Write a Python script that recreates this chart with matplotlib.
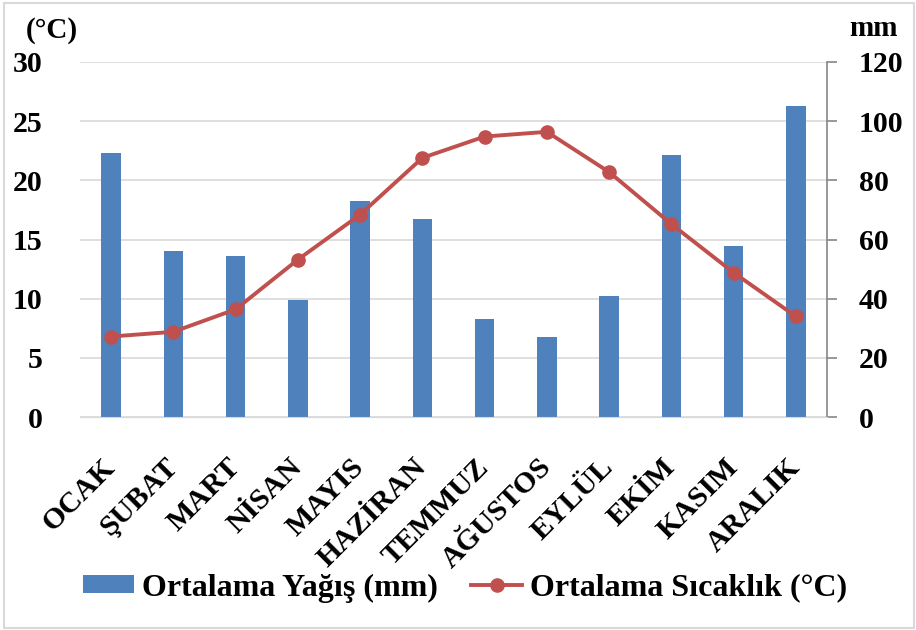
import matplotlib.pyplot as plt
from matplotlib.patches import Rectangle

plt.rcParams['font.family'] = ['Liberation Serif', 'DejaVu Serif']
plt.rcParams['font.weight'] = 'bold'

# data
months = ['OCAK', 'ŞUBAT', 'MART', 'NİSAN', 'MAYIS', 'HAZİRAN',
          'TEMMUZ', 'AĞUSTOS', 'EYLÜL', 'EKİM', 'KASIM', 'ARALIK']
rain_mm = [89.4, 56.1, 54.3, 39.7, 72.9, 66.9, 33.1, 27.0, 41.0, 88.6, 57.7, 105.0]
temp_c = [6.8, 7.2, 9.1, 13.3, 17.1, 21.9, 23.7, 24.1, 20.7, 16.3, 12.2, 8.5]
temp_ticks = [0, 5, 10, 15, 20, 25, 30]
rain_ticks = [0, 20, 40, 60, 80, 100, 120]

bar_color = '#4f81bd'
line_color = '#c0504d'
grid_color = '#d9d9d9'

fig = plt.figure(figsize=(9.16, 6.30), dpi=100)
fig.patches.append(Rectangle((4 / 916, 2 / 630), 910 / 916, 625 / 630,
                             transform=fig.transFigure, fill=False,
                             edgecolor=grid_color, linewidth=1.5))

ax2 = fig.add_axes([80 / 916, 1 - 417 / 630, 747 / 916, 355 / 630])
ax = ax2.twinx()
ax2.yaxis.tick_right()
ax.yaxis.tick_left()
ax.set_zorder(ax2.get_zorder() + 1)
ax.patch.set_visible(False)

x = list(range(len(months)))

# precipitation bars (right axis)
ax2.bar(x, rain_mm, width=0.31, color=bar_color, label='Ortalama Yağış (mm)', zorder=3)
ax2.set_ylim(0, 120)
ax2.set_yticks(rain_ticks)
ax2.set_xlim(-0.5, 11.5)
ax2.grid(axis='y', color=grid_color, linewidth=1.2, zorder=0)
ax2.set_axisbelow(True)

# temperature line (left axis)
ax.plot(x, temp_c, color=line_color, linewidth=2.8, marker='o', markersize=9.5,
        label='Ortalama Sıcaklık (°C)')
ax.set_ylim(0, 30)
ax.set_yticks(temp_ticks)
ax.set_xlim(-0.5, 11.5)

for a in (ax, ax2):
    for s in ['top', 'left', 'right']:
        a.spines[s].set_visible(False)
    a.spines['bottom'].set_color(grid_color)
ax2.spines['right'].set_visible(True)
ax2.spines['right'].set_color('#868686')
ax2.spines['right'].set_linewidth(1.2)

ax.tick_params(axis='y', length=0, pad=27, labelsize=21.5)
ax2.tick_params(axis='y', direction='out', length=7, width=1.2, color='#868686',
                pad=16, labelsize=21.5)

ax2.set_xticks(x)
ax2.set_xticklabels(months, rotation=45, ha='right', va='center',
                    rotation_mode='anchor', fontsize=21.5)
ax2.tick_params(axis='x', length=0, pad=33)
ax.tick_params(axis='x', length=0, labelbottom=False)

fig.text(52 / 916, 1 - 30 / 630, '(°C)', ha='center', va='center', fontsize=21)
fig.text(873 / 916, 1 - 28 / 630, 'mm', ha='center', va='center', fontsize=21)

h1, l1 = ax2.get_legend_handles_labels()
h2, l2 = ax.get_legend_handles_labels()
fig.legend(h1 + h2, l1 + l2, loc='center', bbox_to_anchor=(465 / 916, 1 - 588 / 630),
           ncol=2, frameon=False, fontsize=23, handlelength=1.6, handleheight=0.5,
           handletextpad=0.25, columnspacing=1.05)

fig.savefig('out.png', dpi=100)
